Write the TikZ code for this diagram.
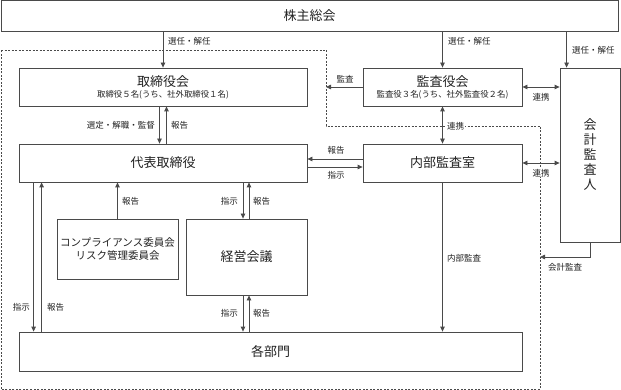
\documentclass[tikz,border=0pt]{standalone}
\usepackage{fontspec}
\setmainfont{Noto Sans CJK JP}
\usetikzlibrary{arrows.meta,calc}
\definecolor{ln}{HTML}{4A4A4A}
\definecolor{tx}{HTML}{222222}
\begin{document}
\begin{tikzpicture}[x=1pt,y=-1pt,
  box/.style={draw=ln,line width=0.8pt,inner sep=0pt,align=center,text=tx},
  ttl/.style={font=\fontsize{13}{15}\selectfont},
  lbl/.style={font=\fontsize{8.5}{10}\selectfont,inner sep=1pt,text=tx},
  arr/.style={draw=ln,line width=0.8pt,-{Triangle[length=5pt,width=4.5pt]}},
  darr/.style={draw=ln,line width=0.8pt,{Triangle[length=5pt,width=4.5pt]}-{Triangle[length=5pt,width=4.5pt]}},
  dashln/.style={draw=ln,line width=0.7pt,dash pattern=on 2pt off 1.5pt}]
\useasboundingbox (0,0) rectangle (621,390);
% dashed region
\draw[dashln] (1,50) -- (326,50) -- (326,126) -- (540,126) -- (540,389) -- (1,389) -- cycle;
\coordinate (kd) at (326,87);
\coordinate (ad) at (540,257);
% boxes
\node[box,ttl,minimum width=617pt,minimum height=31pt] (sh) at (309.5,15.5) {株主総会};
\node[box,minimum width=288pt,minimum height=38pt] (tb) at (163,87)
  {{\fontsize{13}{15}\selectfont 取締役会}\\[-1pt]{\fontsize{8.4}{9}\selectfont 取締役５名(うち、社外取締役１名)}};
\node[box,minimum width=159pt,minimum height=38pt] (ka) at (442.5,87)
  {{\fontsize{13}{15}\selectfont 監査役会}\\[-1pt]{\fontsize{8.4}{9}\selectfont 監査役３名(うち、社外監査役２名)}};
\node[box,ttl,minimum width=288pt,minimum height=38pt] (rep) at (163,163) {代表取締役};
\node[box,ttl,minimum width=159pt,minimum height=38pt] (na) at (442.5,163) {内部監査室};
\node[box,ttl,minimum width=60pt,minimum height=174pt] (ac) at (590,155) {会\\計\\監\\査\\人};
\node[box,font=\fontsize{10.5}{12.5}\selectfont,minimum width=121pt,minimum height=60pt] (cp) at (117.5,249) {コンプライアンス委員会\\リスク管理委員会};
\node[box,ttl,minimum width=121pt,minimum height=76pt] (km) at (246.5,257) {経営会議};
\node[box,ttl,minimum width=503pt,minimum height=39pt] (bm) at (270.5,351.5) {各部門};
% connectors
\draw[arr] (tb.north |- sh.south) -- (tb.north);
\draw[arr] (ka.north |- sh.south) -- (ka.north);
\draw[arr] ([xshift=7pt]ac.north west |- sh.south) -- ([xshift=7pt]ac.north west);
\draw[arr] ([xshift=-3.5pt]tb.south) -- ([xshift=-3.5pt]rep.north);
\draw[arr] ([xshift=3.5pt]rep.north) -- ([xshift=3.5pt]tb.south);
\draw[arr] (ka.west) -- (kd);
\draw[darr] (ka.east) -- (ka.east -| ac.west);
\draw[darr] (ka.south) -- (na.north);
\draw[arr] ([yshift=4pt]na.west) -- ([yshift=4pt]na.west -| rep.east);
\draw[arr] ([yshift=-4pt]rep.east) -- ([yshift=-4pt]rep.east -| na.west);
\draw[darr] (na.east) -- (na.east -| ac.west);
\draw[arr] (na.south) -- (na.south |- bm.north);
\draw[arr] (ac.south) |- (ad);
\draw[arr] (cp.north) -- (cp.north |- rep.south);
\draw[arr] ([xshift=-3.5pt]km.north |- rep.south) -- ([xshift=-3.5pt]km.north);
\draw[arr] ([xshift=2.5pt]km.north) -- ([xshift=2.5pt]km.north |- rep.south);
\draw[arr] ([xshift=-3.5pt]km.south) -- ([xshift=-3.5pt]km.south |- bm.north);
\draw[arr] ([xshift=2.5pt]km.south |- bm.north) -- ([xshift=2.5pt]km.south);
\draw[arr] ([xshift=15pt]rep.south west) -- ([xshift=15pt]rep.south west |- bm.north);
\draw[arr] ([xshift=23pt]rep.south west |- bm.north) -- ([xshift=23pt]rep.south west);
% labels
\node[lbl,anchor=west] (l1) at (167,41) {選任・解任};
\node[lbl,anchor=west] (l2) at (447,41) {選任・解任};
\node[lbl,anchor=west] (l3) at (571,50) {選任・解任};
\node[lbl] (l4) at (345,79) {監査};
\node[lbl] (l5) at (541,97) {連携};
\node[lbl,anchor=east] (l6) at (156,125) {選定・解職・監督};
\node[lbl,anchor=west] (l7) at (170,125) {報告};
\node[lbl,anchor=west,fill=white] (l8) at (446,126) {連携};
\node[lbl] (l9) at (336,150) {報告};
\node[lbl] (l10) at (336,175) {指示};
\node[lbl,fill=white,inner sep=0.5pt] (l11) at (541,173) {連携};
\node[lbl,anchor=west] (l12) at (121,201) {報告};
\node[lbl,anchor=east] (l13) at (239,201) {指示};
\node[lbl,anchor=west] (l14) at (252,201) {報告};
\node[lbl,anchor=east] (l15) at (239,313) {指示};
\node[lbl,anchor=west] (l16) at (252,313) {報告};
\node[lbl,anchor=east] (l17) at (31,307) {指示};
\node[lbl,anchor=west] (l18) at (46,307) {報告};
\node[lbl,anchor=west] (l19) at (446,258) {内部監査};
\node[lbl,anchor=west] (l20) at (547,267) {会計監査};
\end{tikzpicture}
\end{document}
